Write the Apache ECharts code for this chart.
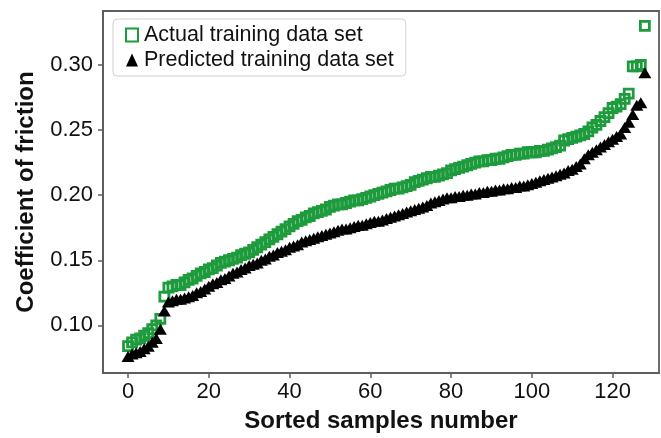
<!DOCTYPE html>
<html>
<head>
<meta charset="utf-8">
<script src="https://cdn.jsdelivr.net/npm/echarts@6/dist/echarts.min.js"></script>
<style>
  html, body { margin: 0; padding: 0; background: #fff; }
  #chart { width: 661px; height: 438px; }
</style>
</head>
<body>
<div id="chart"></div>
<script>
// sorted samples, index 0..128
var actualValues = [
  0.084, 0.087, 0.089, 0.090, 0.092, 0.094, 0.097, 0.100, 0.105, 0.122,
  0.129, 0.130, 0.131, 0.131, 0.133, 0.135, 0.136, 0.138, 0.140, 0.141,
  0.143, 0.144, 0.146, 0.148, 0.149, 0.150, 0.151, 0.152, 0.154, 0.155,
  0.156, 0.158, 0.160, 0.162, 0.164, 0.166, 0.168, 0.170, 0.172, 0.174,
  0.176, 0.178, 0.180, 0.181, 0.183, 0.184, 0.186, 0.187, 0.188, 0.189,
  0.191, 0.192, 0.193, 0.193, 0.194, 0.195, 0.196, 0.196, 0.197, 0.198,
  0.199, 0.200, 0.201, 0.202, 0.203, 0.204, 0.205, 0.205, 0.206, 0.207,
  0.208, 0.210, 0.211, 0.212, 0.213, 0.214, 0.214, 0.215, 0.216, 0.217,
  0.219, 0.220, 0.221, 0.222, 0.223, 0.224, 0.225, 0.226, 0.226, 0.227,
  0.227, 0.228, 0.228, 0.229, 0.230, 0.231, 0.231, 0.232, 0.232, 0.233,
  0.233, 0.233, 0.234, 0.234, 0.235, 0.236, 0.237, 0.238, 0.242, 0.243,
  0.244, 0.245, 0.246, 0.247, 0.249, 0.252, 0.254, 0.257, 0.260, 0.263,
  0.267, 0.268, 0.270, 0.274, 0.278, 0.299, 0.299, 0.300, 0.330
];
var predictedValues = [
  0.076, 0.078, 0.079, 0.080, 0.082, 0.084, 0.087, 0.090, 0.097, 0.111,
  0.118, 0.119, 0.120, 0.120, 0.121, 0.122, 0.123, 0.125, 0.126, 0.128,
  0.130, 0.132, 0.133, 0.135, 0.136, 0.138, 0.140, 0.141, 0.143, 0.144,
  0.146, 0.147, 0.148, 0.150, 0.151, 0.153, 0.154, 0.156, 0.157, 0.158,
  0.160, 0.161, 0.162, 0.164, 0.165, 0.166, 0.167, 0.168, 0.169, 0.170,
  0.171, 0.172, 0.173, 0.174, 0.174, 0.175, 0.176, 0.177, 0.177, 0.178,
  0.179, 0.180, 0.180, 0.181, 0.182, 0.183, 0.184, 0.185, 0.186, 0.187,
  0.188, 0.189, 0.190, 0.191, 0.192, 0.194, 0.195, 0.196, 0.197, 0.198,
  0.198, 0.199, 0.199, 0.200, 0.200, 0.201, 0.201, 0.202, 0.202, 0.203,
  0.203, 0.204, 0.204, 0.205, 0.205, 0.206, 0.206, 0.207, 0.207, 0.208,
  0.209, 0.210, 0.211, 0.212, 0.213, 0.214, 0.215, 0.216, 0.217, 0.219,
  0.220, 0.222, 0.224, 0.228, 0.231, 0.233, 0.235, 0.237, 0.239, 0.241,
  0.243, 0.245, 0.247, 0.252, 0.256, 0.262, 0.269, 0.271, 0.294
];
var xTicks = [0, 20, 40, 60, 80, 100, 120];
var yTicks = [0.10, 0.15, 0.20, 0.25, 0.30];

var green = "#1e9b3c";
var axisColor = "#5e5e5e";
var font = "Liberation Sans, Arial, sans-serif";

function toPoints(values) {
  return values.map(function (v, i) { return [i, v]; });
}

var myChart = echarts.init(document.getElementById("chart"));
var option = {
  animation: false,
  grid: {
    left: 103, right: 2, top: 11, bottom: 58,
    show: true, borderColor: axisColor, borderWidth: 1.8
  },
  legend: {
    orient: "vertical",
    left: 113, top: 19,
    padding: [5, 12, 5, 12],
    itemGap: 3,
    itemWidth: 12, itemHeight: 13,
    borderColor: "#d0d0d0", borderWidth: 1, borderRadius: 4,
    backgroundColor: "#fff",
    textStyle: { fontFamily: font, fontSize: 21.5, color: "#111", padding: [0, 0, 0, 1] },
    data: ["Actual training data set", "Predicted training data set"]
  },
  xAxis: {
    type: "value",
    min: -6.2, max: 131.5,
    name: "Sorted samples number",
    nameLocation: "middle",
    nameGap: 36,
    nameTextStyle: { fontFamily: font, fontSize: 24, fontWeight: "bold", color: "#111" },
    axisLine: { show: true, onZero: false, lineStyle: { color: axisColor, width: 1.8 } },
    axisTick: { show: true, length: 5, customValues: xTicks, lineStyle: { color: axisColor, width: 1.5 } },
    axisLabel: { customValues: xTicks, margin: 8, fontFamily: font, fontSize: 22, color: "#111" },
    splitLine: { show: false }
  },
  yAxis: {
    type: "value",
    min: 0.0634, max: 0.3415,
    name: "Coefficient of friction",
    nameLocation: "middle",
    nameGap: 65,
    nameTextStyle: { fontFamily: font, fontSize: 24, fontWeight: "bold", color: "#111" },
    axisLine: { show: true, onZero: false, lineStyle: { color: axisColor, width: 1.8 } },
    axisTick: { show: true, length: 5, customValues: yTicks, lineStyle: { color: axisColor, width: 1.5 } },
    axisLabel: {
      customValues: yTicks, margin: 10, fontFamily: font, fontSize: 22, color: "#111",
      formatter: function (v) { return v.toFixed(2); }
    },
    splitLine: { show: false }
  },
  series: [
    {
      name: "Actual training data set",
      type: "scatter",
      symbol: "rect",
      symbolSize: 9,
      itemStyle: { color: "rgba(255,255,255,0)", borderColor: green, borderWidth: 2.8, opacity: 1 },
      data: toPoints(actualValues),
      z: 2
    },
    {
      name: "Predicted training data set",
      type: "scatter",
      symbol: "triangle",
      symbolSize: [13, 11],
      itemStyle: { color: "#000", opacity: 1 },
      data: toPoints(predictedValues),
      z: 3
    }
  ]
};
myChart.setOption(option);
</script>
</body>
</html>
